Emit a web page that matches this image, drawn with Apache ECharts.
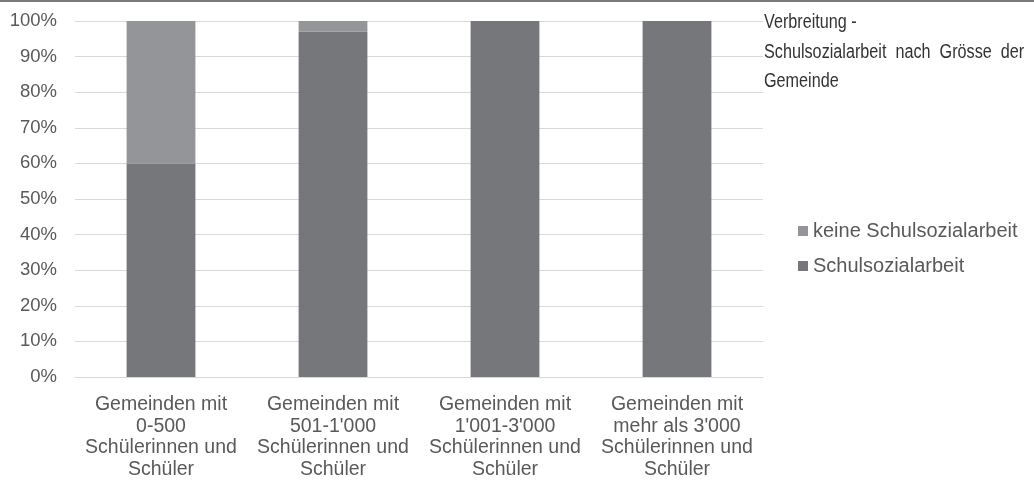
<!DOCTYPE html>
<html>
<head>
<meta charset="utf-8">
<script src="https://cdn.jsdelivr.net/npm/echarts@6/dist/echarts.min.js"></script>
<style>
  html, body { margin: 0; padding: 0; background: #ffffff; }
  #chart { width: 1034px; height: 480px; }
</style>
</head>
<body>
<div id="chart"></div>
<script>
// Gemeindegrössen (Kategorien der x-Achse)
const categories = [
  "Gemeinden mit\n0-500\nSchülerinnen und\nSchüler",
  "Gemeinden mit\n501-1'000\nSchülerinnen und\nSchüler",
  "Gemeinden mit\n1'001-3'000\nSchülerinnen und\nSchüler",
  "Gemeinden mit\nmehr als 3'000\nSchülerinnen und\nSchüler"
];
// Anteile in Prozent
const mitSchulsozialarbeit = [60, 97, 100, 100];
const keineSchulsozialarbeit = [40, 3, 0, 0];
const titleLines = ["Verbreitung -", "Schulsozialarbeit  nach  Grösse  der", "Gemeinde"];

const chart = echarts.init(document.getElementById('chart'), null, { renderer: 'canvas' });

const labelFont = "'Liberation Sans', Arial, sans-serif";

chart.setOption({
  animation: false,
  backgroundColor: '#ffffff',
  legend: {
    orient: 'vertical',
    left: 793,
    top: 216,
    itemGap: 15,
    itemWidth: 10,
    itemHeight: 10,
    icon: 'rect',
    data: ['keine Schulsozialarbeit', 'Schulsozialarbeit'],
    textStyle: { fontFamily: labelFont, fontSize: 20, color: '#595959' }
  },
  grid: { left: 75, right: 271, top: 21, bottom: 99, containLabel: false },
  xAxis: {
    type: 'category',
    data: categories,
    axisLine: { show: true, lineStyle: { color: '#d9d9d9', width: 1 } },
    axisTick: { show: false },
    axisLabel: {
      interval: 0,
      margin: 17,
      fontFamily: labelFont,
      fontSize: 19.5,
      lineHeight: 21.5,
      color: '#595959',
      align: 'center'
    }
  },
  yAxis: {
    type: 'value',
    min: 0,
    max: 100,
    interval: 10,
    axisLine: { show: false },
    axisTick: { show: false },
    splitLine: { lineStyle: { color: '#d9d9d9', width: 1 } },
    axisLabel: {
      formatter: '{value}%',
      margin: 18,
      fontFamily: labelFont,
      fontSize: 18.5,
      color: '#595959'
    }
  },
  series: [
    {
      name: 'Schulsozialarbeit',
      type: 'bar',
      stack: 'total',
      barWidth: '40%',
      data: mitSchulsozialarbeit,
      itemStyle: { color: '#76777b' }
    },
    {
      name: 'keine Schulsozialarbeit',
      type: 'bar',
      stack: 'total',
      barWidth: '40%',
      data: keineSchulsozialarbeit,
      itemStyle: { color: '#939598' }
    }
  ],
  graphic: [
    {
      // dunkle Linie am oberen Rand
      type: 'rect',
      left: 0,
      top: 0,
      shape: { width: 1034, height: 2 },
      style: { fill: '#7a7a7a' },
      silent: true
    },
    {
      // Titel in schmaler Schrift, rechts neben dem Diagramm
      type: 'text',
      x: 764,
      y: 8,
      scaleX: 0.81,
      scaleY: 1,
      silent: true,
      style: {
        text: titleLines.join('\n'),
        fontFamily: labelFont,
        fontSize: 20,
        lineHeight: 29.5,
        fill: '#333333',
        verticalAlign: 'top',
        align: 'left'
      }
    }
  ]
});
</script>
</body>
</html>
